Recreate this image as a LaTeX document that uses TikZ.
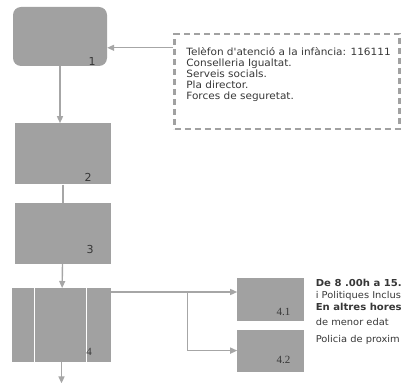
\documentclass[tikz,border=0pt]{standalone}
\usepackage{fontspec}
\setmainfont{DejaVu Sans}
\newfontfamily\widefont[FakeStretch=1.05]{DejaVu Sans}
\newfontfamily\numserif{Liberation Serif}
\usetikzlibrary{positioning, arrows.meta, calc}

\definecolor{boxgray}{RGB}{161,161,161}
\definecolor{linegray}{RGB}{166,166,166}
\definecolor{txtgray}{RGB}{55,55,55}

\begin{document}
\begin{tikzpicture}[
    every node/.style={font=\widefont\fontsize{10}{10.8}\selectfont, text=txtgray},
    stage/.style={fill=boxgray, minimum width=96pt, minimum height=61pt, inner sep=0pt},
    sub/.style={fill=boxgray, minimum width=67pt, minimum height=43pt, inner sep=0pt},
    num/.style={font=\fontsize{11}{11}\selectfont, inner sep=0pt},
    snum/.style={font=\numserif\fontsize{11}{11}\selectfont, inner sep=0pt},
    arr/.style={-{Triangle[length=7pt, width=6pt]}, line width=1.4pt, draw=linegray},
]
\useasboundingbox (0,0) rectangle (406pt,-382pt);

% ── Main column ──────────────────────────────────────────────────────────────
\node[stage, rounded corners=8pt, minimum width=94pt, minimum height=59pt] (b1) at (60pt,-36.5pt) {};
\node[stage, below=57pt of b1, xshift=3pt] (b2) {};
\node[stage, below=18pt of b2] (b3) {};
\node[stage, minimum width=99pt, minimum height=74pt, below=24pt of b3, xshift=-1.5pt] (b4) {};
\draw[white, line width=1.2pt] ([xshift=23pt]b4.north west) -- ([xshift=23pt]b4.south west);
\draw[white, line width=1.2pt] ([xshift=75pt]b4.north west) -- ([xshift=75pt]b4.south west);

\node[num]  (n1) at ([shift={(-15pt,5pt)}]b1.south east)  {1};
\node[num]  (n2) at ([shift={(-23pt,7pt)}]b2.south east)  {2};
\node[num]  (n3) at ([shift={(-21pt,15pt)}]b3.south east) {3};
\node[snum] (n4) at ([shift={(-22pt,11pt)}]b4.south east) {4};

% ── Contacts ─────────────────────────────────────────────────────────────────
\node[draw=boxgray, line width=2.6pt, dash pattern=on 6pt off 4pt,
      minimum width=225pt, minimum height=95pt,
      below right=26pt and 66pt of b1.north east] (info) {};
\node[align=left, inner sep=0pt, below right=15pt and 13pt of info.north west] (infotxt) {
    Telèfon d'atenció a la infància: 116111\\
    Conselleria Igualtat.\\
    Serveis socials.\\
    Pla director.\\
    Forces de seguretat.
};

% ── Branches of 4 ────────────────────────────────────────────────────────────
\node[sub, below right=-10pt and 126pt of b4.north east] (b41) {};
\node[sub, minimum height=42pt, below=8pt of b41] (b42) {};
\node[snum] (n41) at ([shift={(-21pt,9pt)}]b41.south east)  {4.1};
\node[snum] (n42) at ([shift={(-21pt,12pt)}]b42.south east) {4.2};

\node[align=left, inner sep=0pt, font=\widefont\fontsize{9.4}{10}\selectfont,
      below right=1pt and 11pt of b41.north east] (hours) {
    \textbf{\fontsize{9.6}{9.6}\selectfont De 8 .00h a 15.}\\[2pt]
    i Politiques Inclus\\[2.5pt]
    \textbf{\fontsize{9.6}{9.6}\selectfont En altres hores}\\[5pt]
    de menor edat\\[7pt]
    Policia de proxim
};

% ── Arrows ───────────────────────────────────────────────────────────────────
\coordinate (tel) at ([yshift=-15pt]info.north west);
\coordinate (fork) at ([yshift=-4pt]b4.north east);
\coordinate[right=76pt of fork] (split);
\coordinate[below=21pt of b4] (out);

\draw[arr] (tel) -- (tel -| b1.east);
\draw[arr] (b1.south) -- (b1.south |- b2.north);
\draw[linegray, line width=1.4pt] (b2) -- (b3);
\draw[arr] (b3) -- (b4);
\draw[arr] (fork) -- (fork -| b41.west);
\draw[arr] (split) |- (b42.west);
\draw[arr] (b4) -- (out);

\end{tikzpicture}
\end{document}
